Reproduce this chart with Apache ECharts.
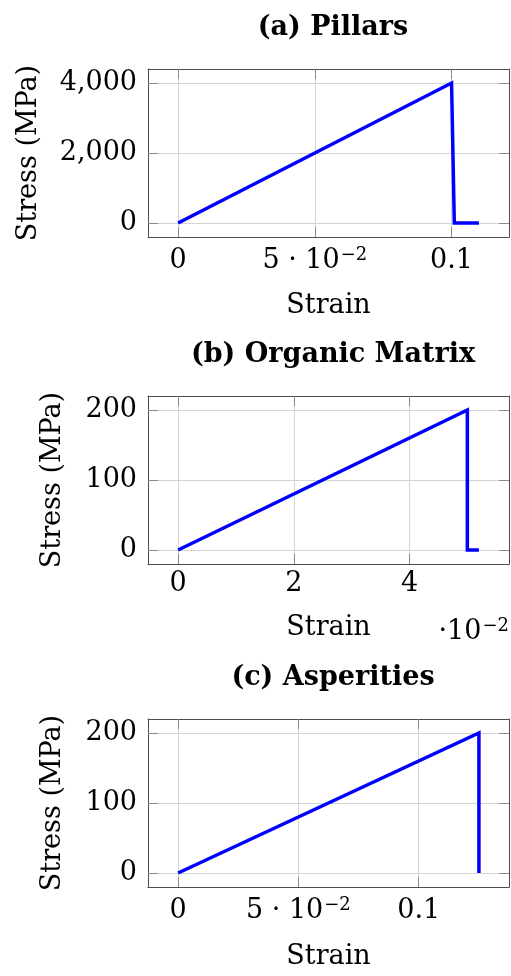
<!DOCTYPE html>
<html>
<head>
<meta charset="utf-8">
<script src="https://cdn.jsdelivr.net/npm/echarts@6/dist/echarts.min.js"></script>
<style>
  html, body { margin: 0; padding: 0; background: #ffffff; }
  #chart { width: 511px; height: 976px; }
</style>
</head>
<body>
<div id="chart"></div>
<script>
// Stress–strain laws of the three constituents.
// (a) Pillars
const pillarsStrain = [0, 0.1, 0.101, 0.11];
const pillarsStress = [0, 4000, 0, 0];
// (b) Organic matrix (strain given in units of 10^-2)
const matrixStrain = [0, 5, 5, 5.2];
const matrixStress = [0, 200, 0, 0];
// (c) Asperities
const asperStrain = [0, 0.125, 0.125];
const asperStress = [0, 200, 0];

// Tick positions and their labels
const strainTicksA = [0, 0.05, 0.1];
const strainLabelsA = ['0', '{n|5 · 10}{s|−2}', '0.1'];
const stressTicksA = [0, 2000, 4000];
const stressLabelsA = ['0', '2,000', '4,000'];
const strainTicksB = [0, 2, 4];
const strainLabelsB = ['0', '2', '4'];
const stressTicksB = [0, 100, 200];
const stressLabelsB = ['0', '100', '200'];
const strainTicksC = [0, 0.05, 0.1];
const strainLabelsC = ['0', '{n|5 · 10}{s|−2}', '0.1'];
const stressTicksC = [0, 100, 200];
const stressLabelsC = ['0', '100', '200'];

const titles = ['(a) Pillars', '(b) Organic Matrix', '(c) Asperities'];
const xName = 'Strain';
const yName = 'Stress (MPa)';

const FONT = 'DejaVu Serif';
const FS = 27;
const FRAME = '#4d4d4d';
const TICK = '#8a8a8a';
const GRID = '#d4d4d4';

// pgfplots-style 10% enlargement of the data range
function enlarged(vals) {
  const lo = Math.min(...vals), hi = Math.max(...vals);
  const pad = (hi - lo) * 0.1;
  return [lo - pad, hi + pad];
}

function labeler(ticks, labels) {
  return function (v) {
    for (let i = 0; i < ticks.length; i++) {
      if (Math.abs(ticks[i] - v) < 1e-9) return labels[i];
    }
    return '';
  };
}

const rich = {
  n: { fontFamily: FONT, fontSize: FS, color: '#000', lineHeight: 30 },
  s: { fontFamily: FONT, fontSize: 18, color: '#000', verticalAlign: 'top', lineHeight: 30, padding: [0, 0, 0, 1] }
};

const panels = [
  { top: 69, xs: pillarsStrain, ys: pillarsStress, xt: strainTicksA, xl: strainLabelsA, yt: stressTicksA, yl: stressLabelsA, xMargin: 9, xGap: 55, yGap: 106 },
  { top: 396, xs: matrixStrain, ys: matrixStress, xt: strainTicksB, xl: strainLabelsB, yt: stressTicksB, yl: stressLabelsB, xMargin: 5, xGap: 50, yGap: 82 },
  { top: 719, xs: asperStrain, ys: asperStress, xt: strainTicksC, xl: strainLabelsC, yt: stressTicksC, yl: stressLabelsC, xMargin: 9, xGap: 56, yGap: 82 }
];
const titleCenters = [25, 352, 675];
const GRID_H = 168;

const grid = [], xAxis = [], yAxis = [], series = [], title = [];

panels.forEach(function (p, i) {
  grid.push({ left: 148, right: 2, top: p.top, height: GRID_H, containLabel: false });
  const xr = enlarged(p.xs), yr = enlarged(p.ys);

  const baseX = {
    type: 'value', gridIndex: i, min: xr[0], max: xr[1],
    axisLine: { show: true, onZero: false, lineStyle: { color: FRAME, width: 1 } },
    axisTick: { show: true, inside: true, length: 10, customValues: p.xt, lineStyle: { color: TICK, width: 1 } }
  };
  xAxis.push(Object.assign({}, baseX, {
    position: 'bottom',
    name: xName, nameLocation: 'middle', nameGap: p.xGap,
    nameTextStyle: { fontFamily: FONT, fontSize: FS, color: '#000' },
    axisLabel: { show: true, customValues: p.xt, margin: p.xMargin, formatter: labeler(p.xt, p.xl),
      fontFamily: FONT, fontSize: FS, color: '#000', lineHeight: 30, rich: rich },
    splitLine: { show: true, lineStyle: { color: GRID, width: 1 } }
  }));
  xAxis.push(Object.assign({}, baseX, {
    position: 'top', axisLabel: { show: false }, splitLine: { show: false }
  }));

  const baseY = {
    type: 'value', gridIndex: i, min: yr[0], max: yr[1],
    axisLine: { show: true, onZero: false, lineStyle: { color: FRAME, width: 1 } },
    axisTick: { show: true, inside: true, length: 10, customValues: p.yt, lineStyle: { color: TICK, width: 1 } }
  };
  yAxis.push(Object.assign({}, baseY, {
    position: 'left',
    name: yName, nameLocation: 'middle', nameGap: p.yGap,
    nameTextStyle: { fontFamily: FONT, fontSize: FS, color: '#000' },
    axisLabel: { show: true, customValues: p.yt, margin: 11, formatter: labeler(p.yt, p.yl),
      fontFamily: FONT, fontSize: FS, color: '#000' },
    splitLine: { show: true, lineStyle: { color: GRID, width: 1 } }
  }));
  yAxis.push(Object.assign({}, baseY, {
    position: 'right', axisLabel: { show: false }, splitLine: { show: false }
  }));

  series.push({
    type: 'line', xAxisIndex: 2 * i, yAxisIndex: 2 * i,
    data: p.xs.map(function (x, k) { return [x, p.ys[k]]; }),
    showSymbol: false, symbol: 'none', animation: false,
    lineStyle: { color: '#0000ff', width: 3.5, join: 'miter' },
    z: 5
  });

  title.push({
    text: titles[i], left: 328, top: titleCenters[i] - 16, textAlign: 'center',
    textStyle: { fontFamily: FONT, fontSize: 27, fontWeight: 'bold', color: '#000' }
  });
});

const chart = echarts.init(document.getElementById('chart'), null, { renderer: 'canvas' });
chart.setOption({
  animation: false,
  backgroundColor: '#ffffff',
  title: title,
  grid: grid,
  xAxis: xAxis,
  yAxis: yAxis,
  series: series,
  graphic: [{
    type: 'text', right: 2, top: 617,
    style: {
      text: '{n|·10}{s|−2}',
      rich: rich
    }
  }]
});
</script>
</body>
</html>
